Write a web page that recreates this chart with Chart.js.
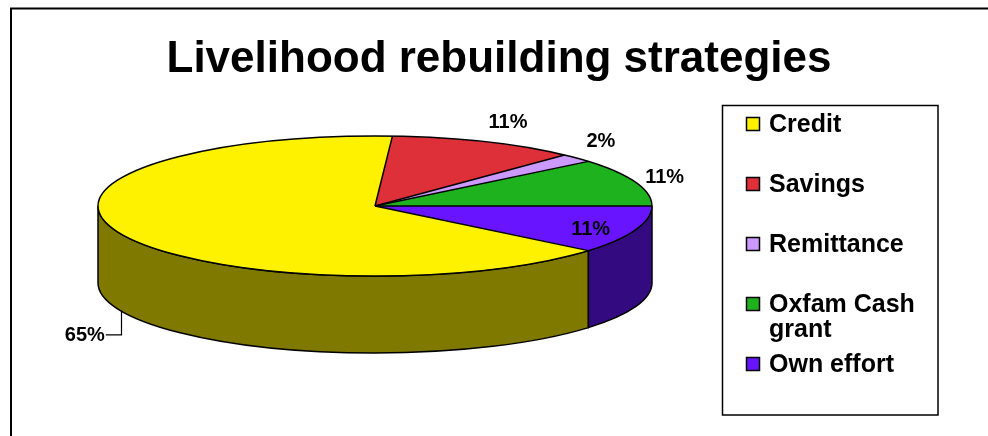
<!DOCTYPE html>
<html>
<head>
<meta charset="utf-8">
<script src="https://cdn.jsdelivr.net/npm/chart.js@4.4.1/dist/chart.umd.min.js"></script>
<style>
  html, body { margin: 0; padding: 0; background: #fff; }
</style>
</head>
<body>
<canvas id="pie" width="988" height="436"></canvas>
<script>
// データ
const labels = ['Credit', 'Savings', 'Remittance', 'Oxfam Cash grant', 'Own effort'];
const values = [65, 11, 2, 11, 11];
const colors = ['#fff200', '#de3039', '#cc99ff', '#1eb31e', '#6814ff'];
const chartTitle = 'Livelihood rebuilding strategies';

const FONT = '"Liberation Sans", Arial, sans-serif';
const total = values.reduce((a, b) => a + b, 0);

// 3D pie geometry (top face ellipse + depth of the side wall)
const pieCx = 375, pieCy = 206, pieRx = 277, pieRy = 70, pieDepth = 77;

// label offsets from the rim point at the slice middle (null = leader line)
const labelShift = [null, [23, -19], [24, -17], [29, -5], [-45, 0]];

function darken(hex, f) {
  const n = parseInt(hex.slice(1), 16);
  const r = Math.round(((n >> 16) & 255) * f);
  const g = Math.round(((n >> 8) & 255) * f);
  const b = Math.round((n & 255) * f);
  return `rgb(${r},${g},${b})`;
}

function wrapText(ctx, text, maxW) {
  const words = text.split(' ');
  const lines = [];
  let cur = '';
  words.forEach(w => {
    const t = cur ? cur + ' ' + w : w;
    if (cur && ctx.measureText(t).width > maxW) {
      lines.push(cur);
      cur = w;
    } else {
      cur = t;
    }
  });
  if (cur) lines.push(cur);
  return lines;
}

const pie3d = {
  id: 'pie3d',
  beforeDraw(chart) {
    const ctx = chart.ctx;
    ctx.save();
    ctx.fillStyle = '#fff';
    ctx.fillRect(0, 0, chart.width, chart.height);
    // 外枠
    ctx.strokeStyle = '#000';
    ctx.lineWidth = 2;
    ctx.strokeRect(11, 8.5, chart.width + 20, chart.height + 20);
    ctx.restore();
  },
  beforeDatasetsDraw(chart) {
    const ctx = chart.ctx;
    const arcs = chart.getDatasetMeta(0).data;
    // side walls (only the front half is visible)
    ctx.save();
    ctx.lineWidth = 1.5;
    ctx.strokeStyle = '#000';
    arcs.forEach((arc, i) => {
      const s = arc.startAngle, e = arc.endAngle;
      for (let k = -1; k <= 2; k++) {
        const lo = Math.max(s, 2 * Math.PI * k);
        const hi = Math.min(e, 2 * Math.PI * k + Math.PI);
        if (hi <= lo) continue;
        ctx.beginPath();
        ctx.ellipse(pieCx, pieCy, pieRx, pieRy, 0, lo, hi);
        ctx.ellipse(pieCx, pieCy + pieDepth, pieRx, pieRy, 0, hi, lo, true);
        ctx.closePath();
        ctx.fillStyle = darken(colors[i], 0.5);
        ctx.fill();
        ctx.stroke();
      }
    });
    ctx.restore();
    // squash the library's circle into the top face
    const a = arcs[0];
    ctx.save();
    ctx.translate(pieCx, pieCy);
    ctx.scale(pieRx / a.outerRadius, pieRy / a.outerRadius);
    ctx.translate(-a.x, -a.y);
  },
  afterDatasetsDraw(chart) {
    const ctx = chart.ctx;
    ctx.restore();
    const arcs = chart.getDatasetMeta(0).data;
    ctx.save();
    ctx.strokeStyle = '#000';
    ctx.lineWidth = 1.5;
    ctx.beginPath();
    ctx.ellipse(pieCx, pieCy, pieRx, pieRy, 0, 0, Math.PI * 2);
    ctx.stroke();
    arcs.forEach(arc => {
      ctx.beginPath();
      ctx.moveTo(pieCx, pieCy);
      ctx.lineTo(pieCx + pieRx * Math.cos(arc.startAngle), pieCy + pieRy * Math.sin(arc.startAngle));
      ctx.stroke();
    });

    // パーセント表示
    ctx.font = `bold 20px ${FONT}`;
    ctx.fillStyle = '#000';
    ctx.textBaseline = 'middle';
    arcs.forEach((arc, i) => {
      const mid = (arc.startAngle + arc.endAngle) / 2;
      const txt = Math.round(values[i] / total * 100) + '%';
      const sh = labelShift[i];
      if (sh) {
        ctx.textAlign = 'center';
        ctx.fillText(txt, pieCx + pieRx * Math.cos(mid) + sh[0], pieCy + pieRy * Math.sin(mid) + sh[1]);
      } else {
        const ax = pieCx + pieRx * Math.cos(mid);
        const ay = pieCy + pieDepth + pieRy * Math.sin(mid);
        ctx.lineWidth = 1.2;
        ctx.beginPath();
        ctx.moveTo(Math.round(ax) + 0.5, ay);
        ctx.lineTo(Math.round(ax) + 0.5, ay + 24);
        ctx.lineTo(ax - 15, ay + 24);
        ctx.stroke();
        ctx.textAlign = 'right';
        ctx.fillText(txt, ax - 16, ay + 25);
      }
    });
    ctx.restore();
  },
  afterDraw(chart) {
    // 凡例
    const ctx = chart.ctx;
    ctx.save();
    ctx.strokeStyle = '#000';
    ctx.lineWidth = 1.5;
    ctx.strokeRect(722.5, 105.5, 215.5, 309.5);
    ctx.font = `bold 25px ${FONT}`;
    ctx.textBaseline = 'middle';
    ctx.textAlign = 'left';
    labels.forEach((lab, i) => {
      const y = 124 + 60 * i;
      ctx.fillStyle = colors[i];
      ctx.lineWidth = 1.5;
      ctx.fillRect(746.5, y - 6.5, 13, 13);
      ctx.strokeRect(746.5, y - 6.5, 13, 13);
      ctx.fillStyle = '#000';
      wrapText(ctx, lab, 165).forEach((ln, j) => {
        ctx.fillText(ln, 769, y + 1 + j * 25.5);
      });
    });
    ctx.restore();
  }
};

new Chart(document.getElementById('pie'), {
  type: 'pie',
  data: {
    labels: labels,
    datasets: [{
      data: values,
      backgroundColor: colors,
      borderWidth: 0,
      clip: false
    }]
  },
  options: {
    responsive: false,
    animation: false,
    rotation: 90 + 360 * values[values.length - 1] / total,
    layout: { padding: { left: 10 } },
    plugins: {
      legend: { display: false },
      tooltip: { enabled: false },
      title: {
        display: true,
        text: chartTitle,
        color: '#000',
        font: { family: FONT, size: 44, weight: 'bold' },
        padding: { top: 33, bottom: 10 }
      }
    }
  },
  plugins: [pie3d]
});
</script>
</body>
</html>
